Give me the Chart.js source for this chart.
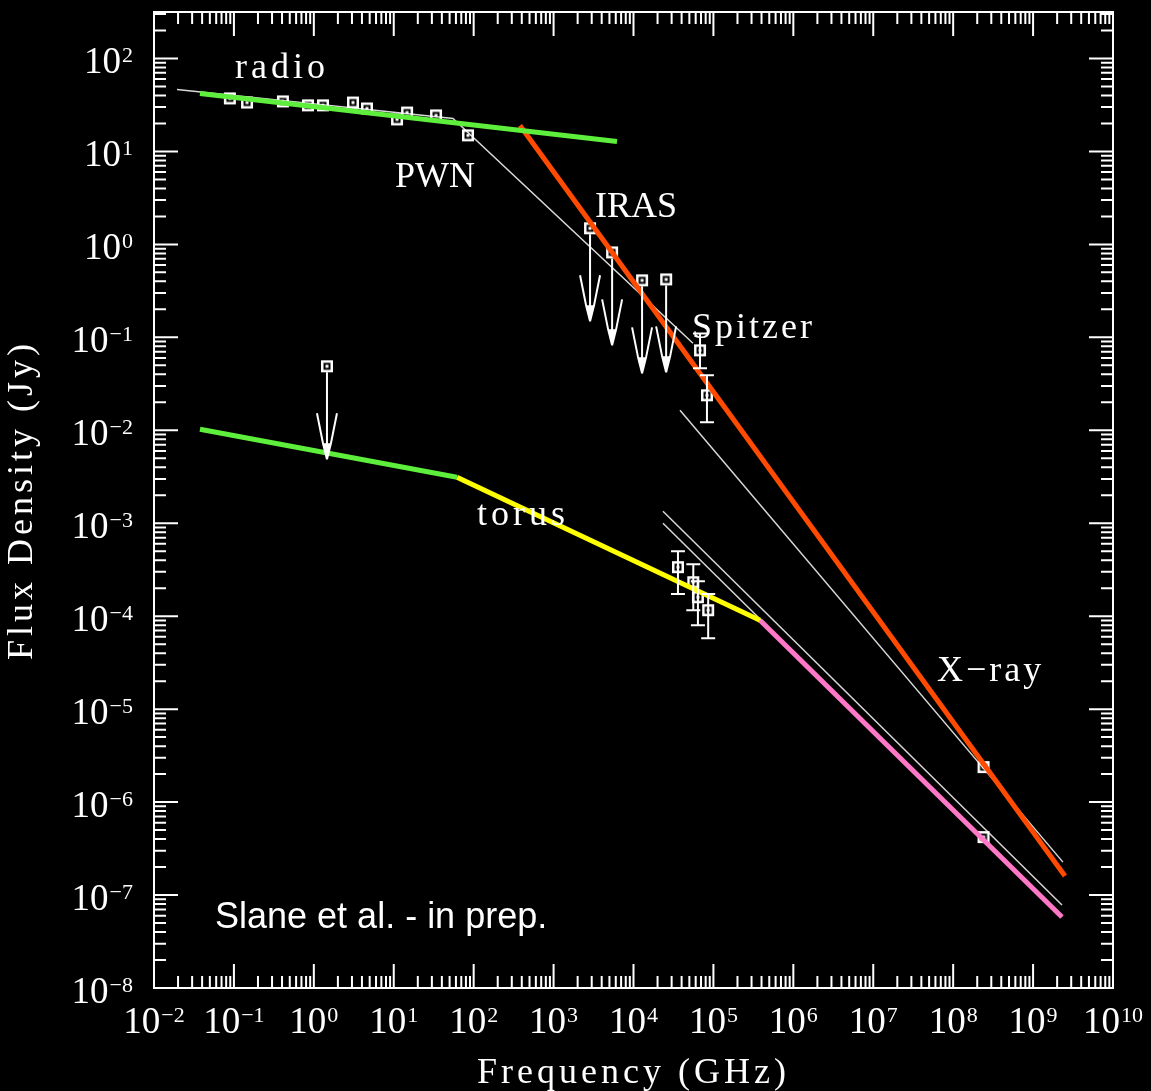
<!DOCTYPE html>
<html>
<head>
<meta charset="utf-8">
<title>Flux Density vs Frequency</title>
<script src="https://cdn.jsdelivr.net/npm/chart.js@4.4.1/dist/chart.umd.min.js"></script>
<style>
  html, body { margin: 0; padding: 0; background: #000; }
  #wrap { width: 1151px; height: 1091px; position: relative; background: #000; }
</style>
</head>
<body>
<div id="wrap"><canvas id="sed"></canvas></div>
<script>
// ---- axis ranges and tick decades ----
const xRange = [1e-2, 1e10];
const yRange = [1e-8, 316.2];
const xTickExponents = [-2, -1, 0, 1, 2, 3, 4, 5, 6, 7, 8, 9, 10];
const yTickExponents = [-8, -7, -6, -5, -4, -3, -2, -1, 0, 1, 2];

// ---- nebula measurements (GHz, Jy) ----
const radioFreq = [0.089, 0.146, 0.41, 0.845, 1.30, 3.09, 4.62, 11.0, 14.7, 33.8, 84.9];
const radioFlux = [37.2, 33.6, 34.5, 31.3, 31.3, 33.6, 29.0, 22.1, 26.2, 24.4, 14.9];

const irasFreq = [2.86e3, 5.4e3, 1.28e4, 2.56e4];     // upper limits
const irasFlux = [1.49, 0.82, 0.41, 0.42];

const spitzerFreq = [6.8e4, 8.3e4];
const spitzerFlux = [0.0724, 0.0238];
const spitzerLo = [0.0465, 0.0122];
const spitzerHi = [0.110, 0.039];

const pwnXrayFreq = [2.4e8];
const pwnXrayFlux = [2.38e-6];

// ---- torus measurements ----
const torusLimitFreq = [1.46];                         // upper limit
const torusLimitFlux = [0.0488];

const torusIrFreq = [3.6e4, 5.6e4, 6.4e4, 8.6e4];
const torusIrFlux = [3.37e-4, 2.32e-4, 1.60e-4, 1.16e-4];
const torusIrLo = [1.73e-4, 1.16e-4, 8.0e-5, 5.8e-5];
const torusIrHi = [5.0e-4, 3.62e-4, 2.38e-4, 1.73e-4];

const torusXrayFreq = [2.4e8];
const torusXrayFlux = [4.2e-7];

// ---- model curves ----
const pwnModelFreq = [0.0194, 55.1, 5.55e4];
const pwnModelFlux = [46.4, 22.6, 0.0862];
const pwnXrayExtrapFreq = [3.815e4, 2.365e9];
const pwnXrayExtrapFlux = [0.0164, 2.26e-7];
const torusExtrapAFreq = [2.338e4, 2.298e9];
const torusExtrapAFlux = [1.0e-3, 5.8e-8];
const torusExtrapBFreq = [2.338e4, 2.298e9];
const torusExtrapBFlux = [1.346e-3, 7.8e-8];

// ---- broken power-law fits ----
const pwnLowFreq = [0.0376, 6214];
const pwnLowFlux = [42.05, 12.81];
const pwnHighFreq = [379.8, 2.506e9];
const pwnHighFlux = [19.04, 1.6e-7];
const torusLowFreq = [0.0376, 61.84];
const torusLowFlux = [0.01025, 3.124e-3];
const torusMidFreq = [61.84, 3.824e5];
const torusMidFlux = [3.124e-3, 9.06e-5];
const torusHighFreq = [3.824e5, 2.298e9];
const torusHighFlux = [9.06e-5, 5.80e-8];

// ---- annotations ----
const labelText = ['radio', 'PWN', 'IRAS', 'Spitzer', 'torus', 'X\u2212ray'];
const labelFreq = [0.1031, 10.36, 3296, 5.4e4, 110, 6.27e7];
const labelFlux = [60.9, 4.10, 1.95, 0.0975, 9.5e-4, 2.0e-5];
const creditText = 'Slane et al. - in prep.';
const creditFreq = 0.058;
const creditFlux = 4.42e-8;

// ---- styling ----
const SERIF = '"Liberation Serif", "DejaVu Serif", serif';
const SANS = '"Liberation Sans", Arial, sans-serif';
const labelSpacing = [4, 0, 0, 3, 4, 3];
const GREEN = '#5eee3c', ORANGE = '#ff4a00', YELLOW = '#ffff00', PINK = '#ff78c8';
const THIN = '#d8d8d8';

const zip = (xs, ys) => xs.map((x, i) => ({ x, y: ys[i] }));

// open square with a centre dot
function makeMarker() {
  const c = document.createElement('canvas');
  c.width = 14; c.height = 14;
  const g = c.getContext('2d');
  g.strokeStyle = '#fff';
  g.lineWidth = 2.5;
  g.strokeRect(2.25, 2.25, 9.5, 9.5);
  g.fillStyle = '#fff';
  g.fillRect(5.5, 5.5, 3, 3);
  return c;
}
const marker = makeMarker();

function lineSet(xs, ys, color, width, order) {
  return {
    data: zip(xs, ys), showLine: true, borderColor: color, borderWidth: width,
    pointRadius: 0, fill: false, order, borderCapStyle: 'butt', tension: 0
  };
}
function pointSet(xs, ys) {
  return {
    data: zip(xs, ys), showLine: false, pointStyle: marker, pointRadius: 7,
    pointHoverRadius: 7, order: 1, borderColor: '#fff', backgroundColor: '#fff'
  };
}

// error bars and upper-limit arrows, drawn just before the coloured fits
const errorSets = [
  { freq: spitzerFreq, lo: spitzerLo, hi: spitzerHi },
  { freq: torusIrFreq, lo: torusIrLo, hi: torusIrHi }
];
const limitSets = [
  { freq: irasFreq, flux: irasFlux },
  { freq: torusLimitFreq, flux: torusLimitFlux }
];

const barsPlugin = {
  id: 'barsAndLimits',
  beforeDatasetDraw(chart, args) {
    if (!(args.meta._dataset && args.meta._dataset.isFirstFit)) return;
    const { ctx, scales: { x, y } } = chart;
    ctx.save();
    ctx.strokeStyle = '#fff';
    ctx.fillStyle = '#fff';
    ctx.lineWidth = 2;
    ctx.beginPath();
    errorSets.forEach(s => {
      s.freq.forEach((f, i) => {
        const px = x.getPixelForValue(f);
        const y1 = y.getPixelForValue(s.lo[i]);
        const y2 = y.getPixelForValue(s.hi[i]);
        ctx.moveTo(px, y1); ctx.lineTo(px, y2);
        ctx.moveTo(px - 7, y1); ctx.lineTo(px + 7, y1);
        ctx.moveTo(px - 7, y2); ctx.lineTo(px + 7, y2);
      });
    });
    limitSets.forEach(s => {
      s.freq.forEach((f, i) => {
        const px = x.getPixelForValue(f);
        const top = y.getPixelForValue(s.flux[i]) + 6;
        const tip = y.getPixelForValue(s.flux[i] / 10);
        ctx.moveTo(px, top); ctx.lineTo(px, tip);
        ctx.moveTo(px - 10, tip - 46); ctx.lineTo(px - 4, tip - 16); ctx.lineTo(px, tip);
        ctx.moveTo(px + 10, tip - 46); ctx.lineTo(px + 4, tip - 16); ctx.lineTo(px, tip);
      });
    });
    ctx.stroke();
    limitSets.forEach(s => {
      s.freq.forEach((f, i) => {
        const px = x.getPixelForValue(f);
        const tip = y.getPixelForValue(s.flux[i] / 10);
        ctx.beginPath();
        ctx.moveTo(px - 4, tip - 16); ctx.lineTo(px + 4, tip - 16); ctx.lineTo(px, tip + 1);
        ctx.closePath();
        ctx.fill();
      });
    });
    ctx.restore();
  }
};

function drawPower(ctx, e, xPos, baseY, align) {
  const base = '10';
  const exp = e < 0 ? '\u2212' + (-e) : String(e);
  ctx.font = '37px ' + SERIF;
  const wb = ctx.measureText(base).width;
  ctx.font = '22px ' + SERIF;
  const we = ctx.measureText(exp).width;
  const total = wb + 1 + we;
  const left = align === 'center' ? xPos - total / 2 : xPos - total;
  ctx.font = '37px ' + SERIF;
  ctx.fillText(base, left, baseY);
  ctx.font = '22px ' + SERIF;
  ctx.fillText(exp, left + wb + 1, baseY - 11);
}

const framePlugin = {
  id: 'frameTicks',
  beforeDraw(chart) {
    const { ctx, width, height } = chart;
    ctx.save();
    ctx.fillStyle = '#000';
    ctx.fillRect(0, 0, width, height);
    ctx.restore();
  },
  afterDraw(chart) {
    const { ctx, chartArea: a, scales: { x, y } } = chart;
    ctx.save();
    ctx.strokeStyle = '#fff';
    ctx.fillStyle = '#fff';
    ctx.lineWidth = 2;
    ctx.strokeRect(a.left, a.top, a.right - a.left, a.bottom - a.top);

    ctx.beginPath();
    xTickExponents.forEach(e => {
      for (let k = 1; k <= 9; k++) {
        const v = k * Math.pow(10, e);
        if (v < xRange[0] * 0.999 || v > xRange[1] * 1.001) continue;
        const px = x.getPixelForValue(v);
        const len = k === 1 ? 24 : 12;
        ctx.moveTo(px, a.bottom); ctx.lineTo(px, a.bottom - len);
        ctx.moveTo(px, a.top); ctx.lineTo(px, a.top + len);
      }
    });
    yTickExponents.forEach(e => {
      for (let k = 1; k <= 9; k++) {
        const v = k * Math.pow(10, e);
        if (v < yRange[0] * 0.999 || v > yRange[1] * 1.001) continue;
        const py = y.getPixelForValue(v);
        const len = k === 1 ? 24 : 12;
        ctx.moveTo(a.left, py); ctx.lineTo(a.left + len, py);
        ctx.moveTo(a.right, py); ctx.lineTo(a.right - len, py);
      }
    });
    ctx.stroke();

    ctx.textAlign = 'left';
    ctx.textBaseline = 'alphabetic';
    xTickExponents.forEach(e => {
      drawPower(ctx, e, x.getPixelForValue(Math.pow(10, e)), a.bottom + 45, 'center');
    });
    yTickExponents.forEach(e => {
      drawPower(ctx, e, a.left - 21, y.getPixelForValue(Math.pow(10, e)) + 15, 'right');
    });

    // axis titles
    ctx.font = '36px ' + SERIF;
    ctx.letterSpacing = '4px';
    ctx.textAlign = 'center';
    ctx.fillText('Frequency (GHz)', (a.left + a.right) / 2, 1083);
    ctx.save();
    ctx.translate(32, (a.top + a.bottom) / 2);
    ctx.rotate(-Math.PI / 2);
    ctx.fillText('Flux Density (Jy)', 0, 0);
    ctx.restore();

    // annotations
    ctx.textAlign = 'left';
    labelText.forEach((t, i) => {
      ctx.letterSpacing = labelSpacing[i] + 'px';
      ctx.font = '36px ' + SERIF;
      ctx.fillText(t, x.getPixelForValue(labelFreq[i]), y.getPixelForValue(labelFlux[i]));
    });
    ctx.letterSpacing = '0px';
    ctx.font = '36px ' + SANS;
    ctx.fillText(creditText, x.getPixelForValue(creditFreq), y.getPixelForValue(creditFlux));
    ctx.restore();
  }
};

const firstFit = lineSet(pwnLowFreq, pwnLowFlux, GREEN, 5, 0);
firstFit.isFirstFit = true;

const datasets = [
  // fitted power laws (on top)
  firstFit,
  lineSet(pwnHighFreq, pwnHighFlux, ORANGE, 5, 0),
  lineSet(torusLowFreq, torusLowFlux, GREEN, 5, 0),
  lineSet(torusMidFreq, torusMidFlux, YELLOW, 5, 0),
  lineSet(torusHighFreq, torusHighFlux, PINK, 5, 0),
  // measurements
  pointSet(radioFreq, radioFlux),
  pointSet(irasFreq, irasFlux),
  pointSet(spitzerFreq, spitzerFlux),
  pointSet(pwnXrayFreq, pwnXrayFlux),
  pointSet(torusLimitFreq, torusLimitFlux),
  pointSet(torusIrFreq, torusIrFlux),
  pointSet(torusXrayFreq, torusXrayFlux),
  // thin model curves (beneath everything)
  lineSet(pwnModelFreq, pwnModelFlux, THIN, 1.5, 3),
  lineSet(pwnXrayExtrapFreq, pwnXrayExtrapFlux, THIN, 1.5, 3),
  lineSet(torusExtrapAFreq, torusExtrapAFlux, THIN, 1.5, 3),
  lineSet(torusExtrapBFreq, torusExtrapBFlux, THIN, 1.5, 3)
];

new Chart(document.getElementById('sed'), {
  type: 'scatter',
  data: { datasets },
  options: {
    responsive: true,
    maintainAspectRatio: false,
    animation: false,
    events: [],
    layout: { padding: { left: 154, top: 12, right: 38, bottom: 103 } },
    plugins: { legend: { display: false }, tooltip: { enabled: false } },
    scales: {
      x: { type: 'logarithmic', min: xRange[0], max: xRange[1], display: false },
      y: { type: 'logarithmic', min: yRange[0], max: yRange[1], display: false }
    }
  },
  plugins: [framePlugin, barsPlugin]
});
</script>
</body>
</html>
